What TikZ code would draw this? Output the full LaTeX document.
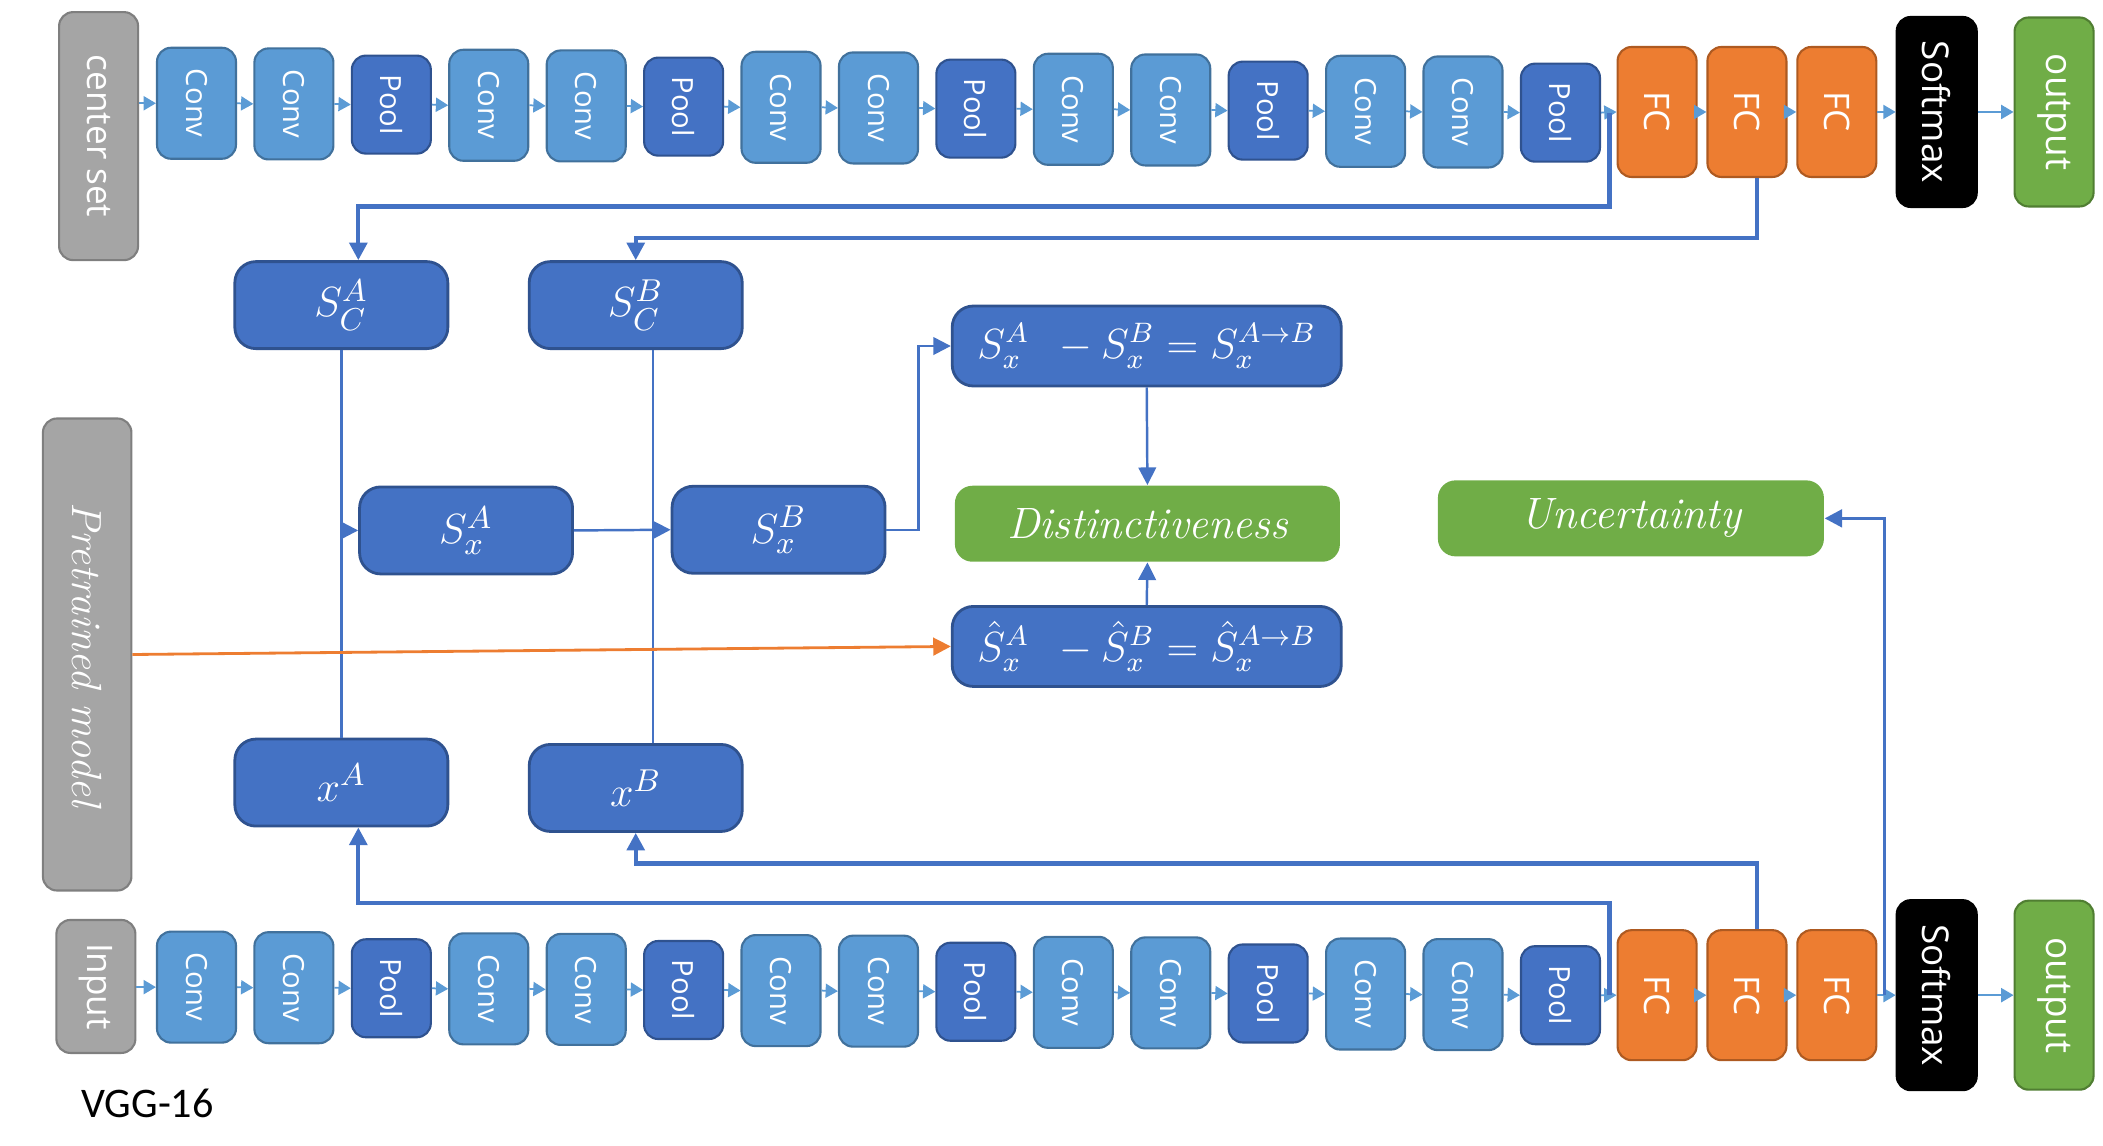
\documentclass[tikz,border=0pt]{standalone}
\usepackage{amsmath,amssymb}
\usepackage{graphicx}
\usepackage{fontspec}
\setsansfont{Open Sans}
\newfontfamily\vggfont{Carlito}
\usepackage{tikz}
\usetikzlibrary{arrows.meta}

\definecolor{convblue}{HTML}{5B9BD5}
\definecolor{convline}{HTML}{41719C}
\definecolor{poolblue}{HTML}{4472C4}
\definecolor{poolline}{HTML}{2F528F}
\definecolor{fcorange}{HTML}{ED7D31}
\definecolor{fcline}{HTML}{AE5A21}
\definecolor{outgreen}{HTML}{70AD47}
\definecolor{outline}{HTML}{507E32}
\definecolor{boxgray}{HTML}{A5A5A5}
\definecolor{grayline}{HTML}{7F7F7F}

\newcommand{\vtext}[1]{\rotatebox{-90}{#1}}

\tikzset{
  layer/.style={rounded corners=4pt, draw, line width=0.6pt, text=white, inner sep=0pt, minimum width=0.79cm},
  convbox/.style={layer, fill=convblue, draw=convline, minimum height=1.11cm, font=\sffamily\fontsize{8.3}{8.3}\selectfont},
  poolbox/.style={layer, fill=poolblue, draw=poolline, minimum height=0.98cm, font=\sffamily\fontsize{8.3}{8.3}\selectfont},
  fcbox/.style={layer, fill=fcorange, draw=fcline, minimum height=1.30cm, font=\sffamily\fontsize{10}{10}\selectfont},
  softbox/.style={layer, fill=black, draw=black, minimum width=0.80cm, minimum height=1.90cm, font=\sffamily\fontsize{10.5}{10.5}\selectfont},
  outbox/.style={layer, fill=outgreen, draw=outline, minimum height=1.89cm, font=\sffamily\fontsize{10.5}{10.5}\selectfont},
  graybox/.style={layer, fill=boxgray, draw=grayline, font=\sffamily\fontsize{10}{10}\selectfont},
  mathbox/.style={rounded corners=6pt, fill=poolblue, draw=poolline, line width=0.8pt, text=white, minimum width=2.13cm, minimum height=0.87cm, font=\fontsize{13}{15}\selectfont},
  eqbox/.style={mathbox, minimum width=3.89cm, minimum height=0.80cm, font=\fontsize{11.5}{13}\selectfont},
  goalbox/.style={rounded corners=5pt, fill=outgreen, text=white, minimum width=3.85cm, minimum height=0.76cm, font=\fontsize{12.5}{14}\selectfont\itshape},
  flow/.style={draw=convblue, line width=0.5pt, -{Triangle[length=3.5pt,width=4pt]}},
  link/.style={draw=poolblue, line width=1.2pt, -{Triangle[length=5pt,width=5pt]}},
  thinlink/.style={draw=poolblue, line width=0.7pt},
  orangelink/.style={draw=fcorange, line width=0.8pt, -{Triangle[length=5pt,width=5pt]}}
}

\begin{document}
\begin{tikzpicture}[x=0.013412cm,y=-0.013412cm]
\useasboundingbox (0,0) rectangle (1568,854);

% the two VGG-16 chains
\node[graybox, minimum height=2.48cm] (cs) at (73.5,101.5) {\vtext{center set}};
\node[graybox, minimum height=1.33cm] (inp) at (71.5,735.5) {\vtext{Input}};
\foreach \i in {1,...,15}{
  \pgfmathsetmacro{\xc}{146.5+72.64*(\i-1)}
  \pgfmathsetmacro{\yt}{77+0.5*(\i-1)}
  \pgfmathsetmacro{\yb}{736+0.43*(\i-1)}
  \pgfmathtruncatemacro{\k}{mod(\i,3)}
  \ifnum\k=0
    \node[poolbox] (t\i) at (\xc,\yt) {\vtext{Pool}};
    \node[poolbox] (b\i) at (\xc,\yb) {\vtext{Pool}};
  \else
    \node[convbox] (t\i) at (\xc,\yt) {\vtext{Conv}};
    \node[convbox] (b\i) at (\xc,\yb) {\vtext{Conv}};
  \fi
}
\foreach \r/\y in {t/83.5,b/742}{
  \node[fcbox] (\r f1) at (1235.5,\y) {\vtext{FC}};
  \node[fcbox] (\r f2) at (1302.5,\y) {\vtext{FC}};
  \node[fcbox] (\r f3) at (1369.5,\y) {\vtext{FC}};
  \node[softbox] (\r sm) at (1444,\y) {\vtext{Softmax}};
  \node[outbox] (\r out) at (1531.5,\y) {\vtext{output}};
}
\draw[flow] (cs.east |- t1.west) -- (t1.west);
\draw[flow] (inp.east |- b1.west) -- (b1.west);
\foreach \r in {t,b}{
  \foreach \i [evaluate=\i as \j using int(\i+1)] in {1,...,14}
    \draw[flow] (\r\i.east) -- (\r\j.west);
  \draw[flow] (\r15.east) -- (\r f1.west);
  \draw[flow] (\r f1) -- (\r f2);
  \draw[flow] (\r f2) -- (\r f3);
  \draw[flow] (\r f3) -- (\r sm);
  \draw[flow] (\r sm) -- (\r out);
}

% middle part
\node[mathbox] (sca) at (254.5,227.5) {$S_C^A$};
\node[mathbox] (scb) at (474,227.5) {$S_C^B$};
\node[mathbox] (sxa) at (347.5,395.5) {$S_x^A$};
\node[mathbox] (sxb) at (580.5,395) {$S_x^B$};
\node[mathbox] (xa) at (254.5,583.5) {$x^A$};
\node[mathbox] (xb) at (474,587.5) {$x^B$};
\node[eqbox] (eq1) at (855,258) {$S_x^A\ \,-S_x^B=S_x^{A\to B}$};
\node[eqbox] (eq2) at (855,482) {$\hat{S}_x^A\ \,-\hat{S}_x^B=\hat{S}_x^{A\to B}$};
\node[goalbox] (dist) at (855.5,390.5) {Distinctiveness};
\node[goalbox, minimum width=3.86cm] (unc) at (1216,386.5) {Uncertainty};
\node[graybox, minimum width=0.885cm, minimum height=4.72cm, font=\fontsize{12}{14}\selectfont\itshape] (pm) at (65,488) {\vtext{Pretrained model}};
\node[font=\vggfont\fontsize{12}{14}\selectfont] (vgg) at (110,823) {VGG-16};

% connectors
\coordinate (tj) at (1200,84);
\coordinate (bj) at (1200,742);
\coordinate (uj) at (1405,742);
\draw[link] (tj) -- ++(0,70) -| ([xshift=0.17cm]sca.north);
\draw[link] ([xshift=0.1cm]tf2.south) -- ++(0,45) -| (scb.north);
\draw[link] (bj) -- ++(0,-69) -| ([xshift=0.17cm]xa.south);
\draw[link] ([xshift=0.1cm]bf2.north) -- ++(0,-49) -| (xb.south);
\draw[thinlink] (sca.south) -- (xa.north);
\draw[thinlink] ([xshift=0.174cm]scb.south) -- ([xshift=0.174cm]xb.north);
\draw[thinlink,-{Triangle[length=5pt,width=5pt]}] (sca.south |- sxa.west) -- (sxa.west);
\draw[thinlink,-{Triangle[length=5pt,width=5pt]}] (sxa.east) -- (sxb.west);
\draw[thinlink,-{Triangle[length=5pt,width=5pt]}] (sxb.east) -- ++(24,0) |- (eq1.west);
\draw[thinlink,-{Triangle[length=5pt,width=5pt]}] (eq1.south) -- (dist.north);
\draw[thinlink,-{Triangle[length=5pt,width=5pt]}] (eq2.north) -- (dist.south);
\draw[thinlink,line width=1pt,-{Triangle[length=5pt,width=5pt]}] (uj) |- (unc.east);
\draw[orangelink] (pm.east) -- (eq2.west);
\end{tikzpicture}
\end{document}
